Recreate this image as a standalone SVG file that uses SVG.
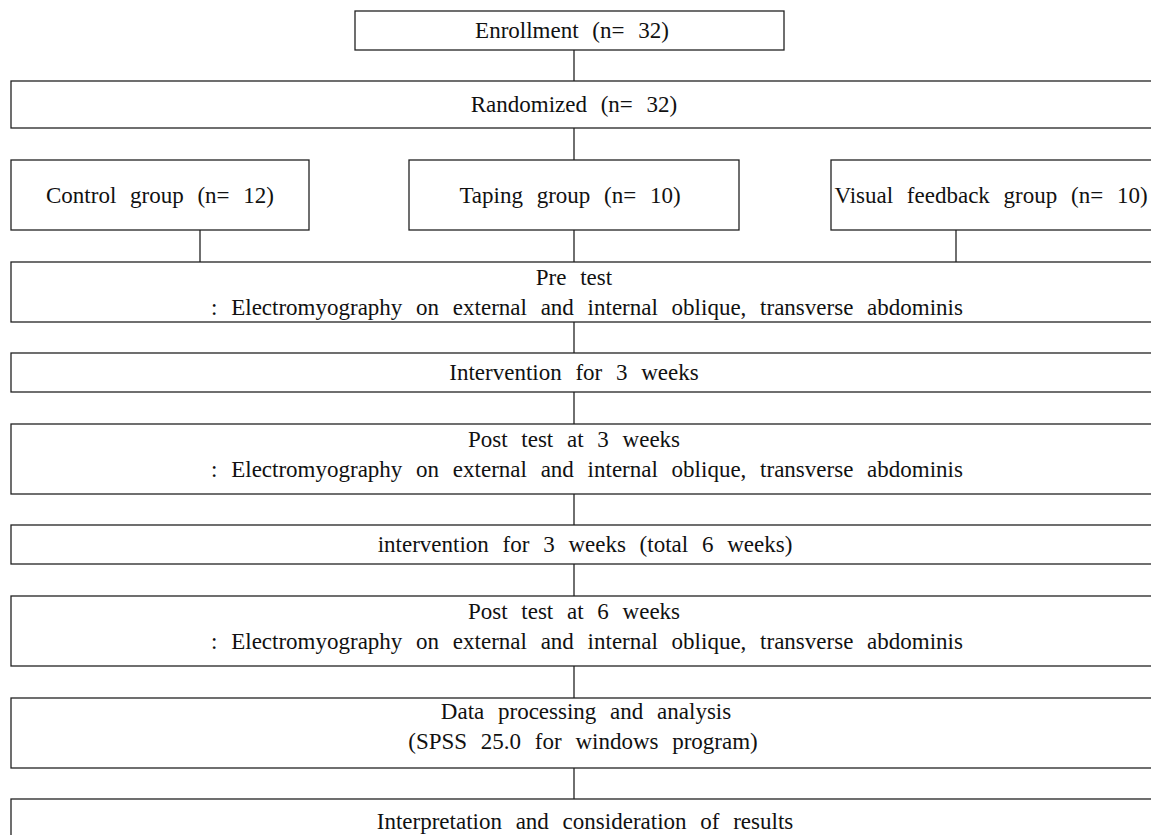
<svg xmlns="http://www.w3.org/2000/svg" width="1151" height="835" viewBox="0 0 1151 835">
<style>
.box{fill:#fff;stroke:#222;stroke-width:1.3}
.t{font-size:23px;fill:#111;text-anchor:middle;word-spacing:8px}
.c{stroke:#222;stroke-width:1.3;fill:none}
</style>
<rect width="1151" height="835" fill="#fff"/>
<g id="connectors">
<line class="c" x1="574" y1="50" x2="574" y2="81"/>
<line class="c" x1="574" y1="128" x2="574" y2="160"/>
<line class="c" x1="200" y1="230" x2="200" y2="262"/>
<line class="c" x1="574" y1="230" x2="574" y2="262"/>
<line class="c" x1="956" y1="230" x2="956" y2="262"/>
<line class="c" x1="574" y1="322" x2="574" y2="353"/>
<line class="c" x1="574" y1="392" x2="574" y2="424"/>
<line class="c" x1="574" y1="494" x2="574" y2="525"/>
<line class="c" x1="574" y1="564" x2="574" y2="596"/>
<line class="c" x1="574" y1="666" x2="574" y2="698"/>
<line class="c" x1="574" y1="768" x2="574" y2="799"/>
</g>
<g font-family="Liberation Serif">
<g id="enrollment">
<rect class="box" x="355" y="11" width="429" height="39"/>
<text class="t" font-family="Liberation Serif" x="572" y="38">Enrollment (n= 32)</text>
</g>
<g id="randomized">
<rect class="box" x="11" y="81" width="1150" height="47"/>
<text class="t" font-family="Liberation Serif" x="574" y="112">Randomized (n= 32)</text>
</g>
<g id="control">
<rect class="box" x="11" y="160" width="298" height="70"/>
<text class="t" font-family="Liberation Serif" x="160" y="203">Control group (n= 12)</text>
</g>
<g id="taping">
<rect class="box" x="409" y="160" width="330" height="70"/>
<text class="t" font-family="Liberation Serif" x="570" y="203">Taping group (n= 10)</text>
</g>
<g id="visual">
<rect class="box" x="831" y="160" width="330" height="70"/>
<text class="t" font-family="Liberation Serif" x="991" y="203">Visual feedback group (n= 10)</text>
</g>
<g id="pretest">
<rect class="box" x="11" y="262" width="1150" height="60"/>
<text class="t" font-family="Liberation Serif" x="574" y="285">Pre test</text>
<text class="t" font-family="Liberation Serif" x="587" y="315">: Electromyography on external and internal oblique, transverse abdominis</text>
</g>
<g id="intervention1">
<rect class="box" x="11" y="353" width="1150" height="39"/>
<text class="t" font-family="Liberation Serif" x="574" y="380">Intervention for 3 weeks</text>
</g>
<g id="posttest3">
<rect class="box" x="11" y="424" width="1150" height="70"/>
<text class="t" font-family="Liberation Serif" x="574" y="447">Post test at 3 weeks</text>
<text class="t" font-family="Liberation Serif" x="587" y="477">: Electromyography on external and internal oblique, transverse abdominis</text>
</g>
<g id="intervention2">
<rect class="box" x="11" y="525" width="1150" height="39"/>
<text class="t" font-family="Liberation Serif" x="585" y="552">intervention for 3 weeks (total 6 weeks)</text>
</g>
<g id="posttest6">
<rect class="box" x="11" y="596" width="1150" height="70"/>
<text class="t" font-family="Liberation Serif" x="574" y="619">Post test at 6 weeks</text>
<text class="t" font-family="Liberation Serif" x="587" y="649">: Electromyography on external and internal oblique, transverse abdominis</text>
</g>
<g id="analysis">
<rect class="box" x="11" y="698" width="1150" height="70"/>
<text class="t" font-family="Liberation Serif" x="586" y="719">Data processing and analysis</text>
<text class="t" font-family="Liberation Serif" x="583" y="749">(SPSS 25.0 for windows program)</text>
</g>
<g id="interpretation">
<rect class="box" x="11" y="799" width="1150" height="50"/>
<text class="t" font-family="Liberation Serif" x="585" y="829">Interpretation and consideration of results</text>
</g>
</g>
</svg>
